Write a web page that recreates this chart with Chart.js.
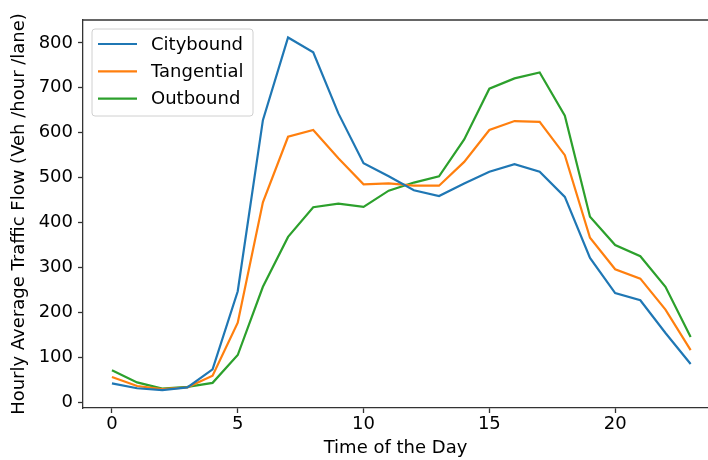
<!DOCTYPE html>
<html>
<head>
<meta charset="utf-8">
<script src="https://cdn.jsdelivr.net/npm/chart.js@4"></script>
<style>
  html, body { margin: 0; padding: 0; background: #fff; overflow: hidden; }
  #wrap { width: 708px; height: 460px; position: relative; }
</style>
</head>
<body>
<div id="wrap"><canvas id="flowChart"></canvas></div>
<script>
const hours = [0, 1, 2, 3, 4, 5, 6, 7, 8, 9, 10, 11, 12, 13, 14, 15, 16, 17, 18, 19, 20, 21, 22, 23];
const citybound = [42, 31, 27, 33, 73, 247, 628, 812, 779, 643, 532, 503, 472, 459, 487, 513, 530, 513, 457, 321, 243, 227, 154, 85];
const tangential = [56, 36, 29, 33, 59, 177, 445, 591, 606, 543, 485, 487, 482, 482, 535, 606, 626, 624, 550, 366, 296, 275, 206, 116];
const outbound = [71, 44, 30, 34, 43, 105, 257, 368, 434, 442, 435, 471, 489, 503, 585, 698, 721, 734, 638, 413, 350, 325, 257, 145];
const xTicks = [0, 5, 10, 15, 20];
const yTicks = [0, 100, 200, 300, 400, 500, 600, 700, 800];

const FONT = 'DejaVu Sans';
const font = { family: FONT, size: 18 };
const spine = '#333';

function series(label, values, color) {
    return {
        label,
        data: hours.map((h, i) => ({ x: h, y: values[i] })),
        borderColor: color,
        backgroundColor: color,
        borderWidth: 2.2,
        pointRadius: 0,
        tension: 0,
        fill: false,
    };
}

// top spine + matplotlib-style legend box in the upper left
const framePlugin = {
    id: 'frame',
    afterDatasetsDraw(chart) {
        const { ctx, chartArea: a } = chart;
        ctx.save();
        ctx.strokeStyle = spine;
        ctx.lineWidth = 1.3;
        ctx.beginPath();
        ctx.moveTo(a.left, a.top);
        ctx.lineTo(chart.width, a.top);
        ctx.stroke();

        const bx = a.left + 9, by = a.top + 9, bw = 161, bh = 87;
        ctx.beginPath();
        ctx.roundRect(bx, by, bw, bh, 3);
        ctx.fillStyle = 'rgba(255,255,255,0.8)';
        ctx.fill();
        ctx.strokeStyle = '#d0d0d0';
        ctx.lineWidth = 1;
        ctx.stroke();

        ctx.font = `${font.size}px "${FONT}"`;
        ctx.textBaseline = 'middle';
        chart.data.datasets.forEach((ds, i) => {
            const y = by + 15 + i * 27.3;
            ctx.strokeStyle = ds.borderColor;
            ctx.lineWidth = 2.2;
            ctx.beginPath();
            ctx.moveTo(bx + 6, y);
            ctx.lineTo(bx + 45, y);
            ctx.stroke();
            ctx.fillStyle = '#000';
            ctx.fillText(ds.label, bx + 59, y + 1);
        });
        ctx.restore();
    },
};

new Chart(document.getElementById('flowChart'), {
    type: 'line',
    data: {
        datasets: [
            series('Citybound', citybound, '#1f77b4'),
            series('Tangential', tangential, '#ff7f0e'),
            series('Outbound', outbound, '#2ca02c'),
        ],
    },
    options: {
        responsive: true,
        maintainAspectRatio: false,
        animation: false,
        layout: { padding: { top: 20, right: 0, left: 0, bottom: 0 } },
        plugins: { legend: { display: false }, tooltip: { enabled: false } },
        scales: {
            x: {
                type: 'linear',
                min: -1.15,
                max: 23.69,
                afterBuildTicks: s => { s.ticks = xTicks.map(v => ({ value: v })); },
                afterFit: s => { s.height = 52; },
                grid: { drawOnChartArea: false, drawTicks: true, tickLength: 5, tickWidth: 1.3, tickColor: spine },
                border: { display: true, color: spine, width: 1.3 },
                ticks: { color: '#000', font, padding: 1, maxRotation: 0 },
                title: { display: true, text: 'Time of the Day', color: '#000', font, padding: { top: 0, bottom: 1 } },
            },
            y: {
                type: 'linear',
                min: -13,
                max: 851,
                afterBuildTicks: s => { s.ticks = yTicks.map(v => ({ value: v })); },
                afterFit: s => { s.width = 83; },
                grid: { drawOnChartArea: false, drawTicks: true, tickLength: 5, tickWidth: 1.3, tickColor: spine },
                border: { display: true, color: spine, width: 1.3 },
                ticks: { color: '#000', font, padding: 5 },
                title: { display: true, text: 'Hourly Average Traffic Flow (Veh /hour /lane)', color: '#000', font, padding: { top: 9, bottom: 0 } },
            },
        },
    },
    plugins: [framePlugin],
});
</script>
</body>
</html>
